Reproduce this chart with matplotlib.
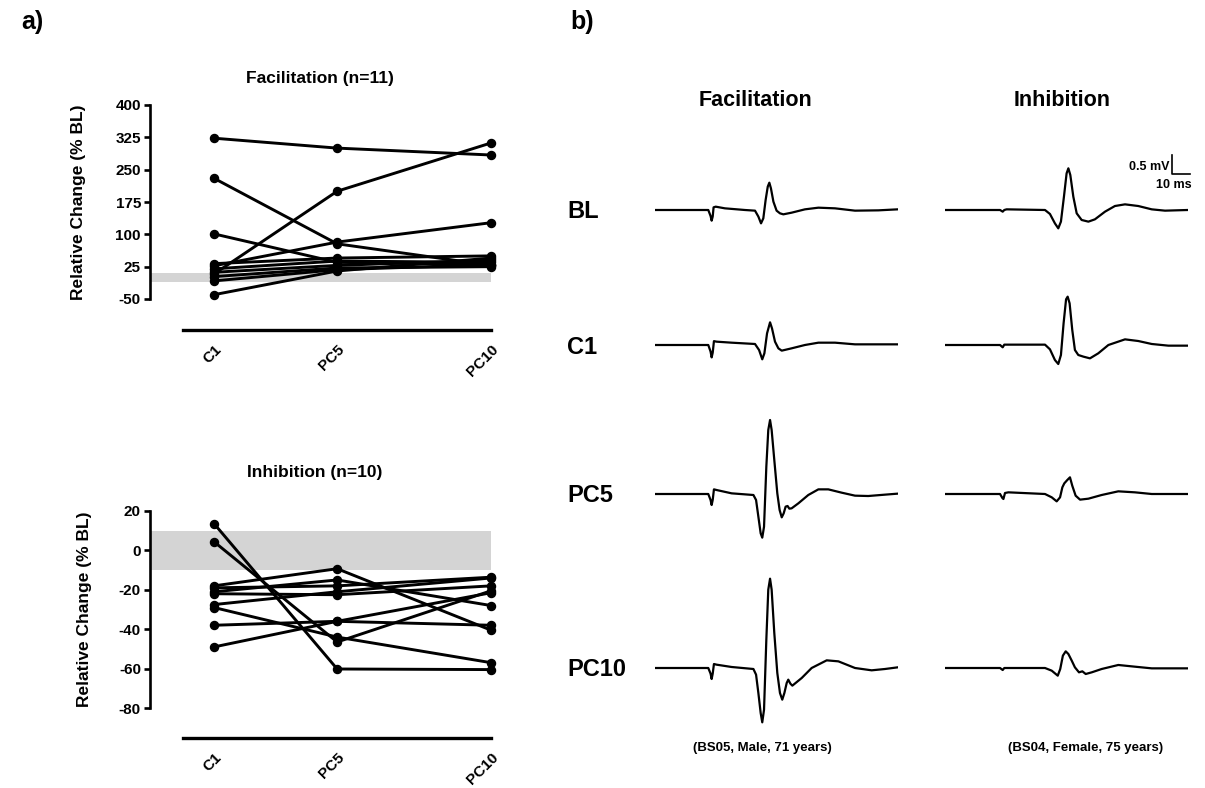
import matplotlib
matplotlib.use("Agg")
import matplotlib.pyplot as plt
import numpy as np

plt.rcParams['font.family'] = ['Liberation Sans', 'DejaVu Sans']
plt.rcParams['font.weight'] = 'bold'
plt.rcParams['axes.unicode_minus'] = False

# ---------------- data: panel a ----------------
time_points = [1, 5, 10]
time_labels = ['C1', 'PC5', 'PC10']

fac_s1 = [323, 300, 284]
fac_s2 = [8, 200, 312]
fac_s3 = [230, 78, 28]
fac_s4 = [101, 35, 30]
fac_s5 = [27, 82, 127]
fac_s6 = [-40, 15, 45]
fac_s7 = [32, 45, 50]
fac_s8 = [20, 38, 35]
fac_s9 = [12, 28, 40]
fac_s10 = [2, 22, 25]
fac_s11 = [-8, 18, 30]
facilitation = [fac_s1, fac_s2, fac_s3, fac_s4, fac_s5, fac_s6,
                fac_s7, fac_s8, fac_s9, fac_s10, fac_s11]

inh_s1 = [13.6, -60.2, -60.5]
inh_s2 = [4.4, -46.5, -20.5]
inh_s3 = [-18, -9.3, -40.5]
inh_s4 = [-29, -44, -57]
inh_s5 = [-38, -36, -38]
inh_s6 = [-49, -36, -21.5]
inh_s7 = [-27.5, -21, -14]
inh_s8 = [-21, -15, -28]
inh_s9 = [-22, -22.5, -18]
inh_s10 = [-19, -18, -13.6]
inhibition = [inh_s1, inh_s2, inh_s3, inh_s4, inh_s5, inh_s6,
              inh_s7, inh_s8, inh_s9, inh_s10]

band = [-10, 10]

# ---------------- data: panel b (MEP traces, ms / mV) ----------------
fac_bl_t = [0, 30.1, 31.4, 32.0, 32.6, 33.1, 34.3, 39.5, 50.8, 56.5, 58.4, 59.9, 61.2, 62.5, 63.7,
            64.6, 65.5, 66.9, 68.7, 70.6, 72.5, 77.2, 84.7, 92.3, 101.7, 113.0, 126.2, 137.1]
fac_bl_v = [0, 0, -0.155, -0.276, -0.17, 0.069, 0.086, 0.043, 0, -0.017, -0.17, -0.345, -0.215, 0.258,
            0.603, 0.706, 0.56, 0.215, -0.017, -0.086, -0.112, -0.069, 0.017, 0.06, 0.043, -0.017,
            -0.009, 0.017]

fac_c1_t = [0, 30.1, 31.4, 32.0, 32.6, 33.3, 34.8, 43.3, 56.5, 58.8, 60.6, 61.8, 63.3, 65.0, 66.1,
            67.8, 69.7, 71.6, 77.2, 84.7, 92.3, 101.7, 113.0, 137.1]
fac_c1_v = [0, 0, -0.17, -0.32, -0.2, 0.10, 0.086, 0.06, 0.026, -0.13, -0.37, -0.215, 0.30, 0.586,
            0.43, 0.086, -0.086, -0.146, -0.086, 0, 0.06, 0.06, 0.017, 0.017]

fac_pc5_t = [0, 30.1, 31.4, 32.0, 32.6, 33.3, 34.8, 43.3, 55.6, 57.1, 58.4, 59.7, 60.6, 61.6, 62.9,
             64.0, 65.0, 65.9, 67.4, 69.1, 70.4, 71.6, 72.7, 73.8, 74.9, 75.9, 77.2, 81.0, 86.6,
             92.3, 97.9, 105.5, 113.0, 120.5, 129.9, 137.1]
fac_pc5_v = [0, 0, -0.155, -0.284, -0.155, 0.12, 0.103, 0.017, -0.026, -0.155, -0.586, -1.016,
             -1.128, -0.844, 0.706, 1.654, 1.912, 1.654, 0.878, 0.017, -0.413, -0.603, -0.50,
             -0.327, -0.31, -0.379, -0.37, -0.241, -0.026, 0.12, 0.12, 0.034, -0.043, -0.052,
             -0.017, 0.009]

fac_pc10_t = [0, 30.1, 31.4, 32.0, 32.6, 33.3, 34.8, 43.3, 55.6, 57.1, 58.4, 59.7, 60.6, 61.6,
              62.9, 64.0, 65.0, 65.9, 67.4, 69.1, 70.6, 71.9, 73.1, 74.4, 75.3, 76.5, 77.6, 82.9,
              88.5, 97.0, 103.6, 113.0, 122.4, 129.9, 137.1]
fac_pc10_v = [0, 0, -0.146, -0.284, -0.146, 0.103, 0.086, 0.026, -0.026, -0.172, -0.646, -1.163,
              -1.404, -1.077, 0.732, 2.024, 2.308, 2.024, 0.904, -0.129, -0.646, -0.818, -0.646,
              -0.388, -0.301, -0.405, -0.456, -0.258, 0, 0.198, 0.172, 0, -0.06, -0.026, 0.017]

inh_bl_t = [0, 31.1, 32.6, 33.5, 34.8, 56.5, 59.3, 62.1, 64.0, 65.5, 67.2, 68.7, 69.7, 70.8, 72.5,
            74.4, 77.2, 81.0, 84.7, 90.4, 96.0, 101.7, 109.2, 116.8, 124.3, 137.1]
inh_bl_v = [0, 0, -0.043, 0, 0.017, 0, -0.103, -0.345, -0.474, -0.30, 0.344, 0.947, 1.077, 0.904,
            0.344, -0.086, -0.258, -0.301, -0.241, -0.043, 0.103, 0.146, 0.103, 0.017, -0.017, 0]

inh_c1_t = [0, 31.1, 32.6, 33.5, 56.5, 59.3, 62.1, 64.0, 65.5, 67.0, 68.4, 69.3, 70.4, 71.9, 73.4,
            75.3, 78.2, 81.9, 86.6, 92.3, 101.7, 109.2, 116.8, 126.2, 137.1]
inh_c1_v = [0, 0, -0.06, 0.009, 0.009, -0.112, -0.388, -0.491, -0.258, 0.56, 1.18, 1.249, 1.077,
            0.388, -0.129, -0.258, -0.301, -0.345, -0.215, 0, 0.146, 0.103, 0.026, -0.017, -0.017]

inh_pc5_t = [0, 31.1, 32.4, 33.0, 33.9, 35.8, 56.5, 60.3, 63.1, 65.0, 66.3, 67.4, 69.1, 70.6, 71.9,
             73.8, 76.3, 81.0, 88.5, 97.9, 107.3, 116.8, 137.1]
inh_pc5_v = [0, 0, -0.103, -0.129, 0.026, 0.043, 0, -0.086, -0.19, -0.086, 0.172, 0.275, 0.362,
             0.431, 0.215, -0.043, -0.146, -0.121, -0.026, 0.069, 0.043, 0, 0]

inh_pc10_t = [0, 31.1, 32.6, 33.5, 56.5, 60.3, 63.7, 65.1, 66.6, 68.2, 69.7, 71.6, 73.4, 75.7, 77.6,
              79.5, 82.9, 88.5, 97.9, 107.3, 116.8, 137.1]
inh_pc10_v = [0, 0, -0.052, 0, 0, -0.069, -0.198, -0.026, 0.319, 0.431, 0.362, 0.19, 0.017, -0.112,
              -0.086, -0.155, -0.112, -0.026, 0.078, 0.034, -0.009, -0.009]

row_labels = ['BL', 'C1', 'PC5', 'PC10']
col_labels = ['Facilitation', 'Inhibition']
captions = ['(BS05, Male, 71 years)', '(BS04, Female, 75 years)']
scale_mv = 0.5
scale_ms = 10

fac_traces = [(fac_bl_t, fac_bl_v), (fac_c1_t, fac_c1_v), (fac_pc5_t, fac_pc5_v), (fac_pc10_t, fac_pc10_v)]
inh_traces = [(inh_bl_t, inh_bl_v), (inh_c1_t, inh_c1_v), (inh_pc5_t, inh_pc5_v), (inh_pc10_t, inh_pc10_v)]

# ---------------- figure ----------------
W, H = 1205, 788
fig = plt.figure(figsize=(W / 100, H / 100), dpi=100)


def fx(px):
    return px / W


def fy(py):
    return 1 - py / H


def add_ax(left, top, right, bottom):
    return fig.add_axes([fx(left), fy(bottom), fx(right - left), (bottom - top) / H])


def style_pair_axes(ax, ymin, ymax, yticks, xl, xr, offset_px):
    ax.set_xlim(xl, xr)
    ax.set_ylim(ymin, ymax)
    for s in ['top', 'right']:
        ax.spines[s].set_visible(False)
    ax.spines['left'].set_bounds(ymin, ymax)
    ax.spines['left'].set_linewidth(1.9)
    ax.spines['bottom'].set_position(('outward', offset_px * 0.72))
    ax.spines['bottom'].set_bounds(0, 10)
    ax.spines['bottom'].set_linewidth(2.4)
    ax.set_yticks(yticks)
    ax.tick_params(axis='y', direction='out', length=4.5, width=1.9, labelsize=11, pad=2)
    ax.tick_params(axis='x', length=0, labelsize=11, pad=9)
    ax.set_xticks(time_points)
    ax.set_xticklabels(time_labels, rotation=45, ha='right', rotation_mode='anchor',
                       fontweight='bold')
    for lab in ax.get_yticklabels():
        lab.set_fontweight('bold')
    ax.patch.set_alpha(0)


x_left = -1.08
x_right = 10.16

# Facilitation chart
ax1 = add_ax(150, 105, 496, 299)
style_pair_axes(ax1, -50, 400, [-50, 25, 100, 175, 250, 325, 400], x_left, x_right, 31)
ax1.fill_between([x_left, 10], band[0], band[1], color='#d4d4d4', lw=0, zorder=0)
for s in facilitation:
    ax1.plot(time_points, s, color='black', lw=2.1, marker='o', ms=5.8, clip_on=False, zorder=3)
ax1.set_ylabel('Relative Change (% BL)', fontsize=12.5, fontweight='bold')
ax1.yaxis.set_label_coords((86 - 150) / 346, 0.5)

# Inhibition chart
ax2 = add_ax(150, 511, 496, 708)
style_pair_axes(ax2, -80, 20, [-80, -60, -40, -20, 0, 20], x_left, x_right, 30)
ax2.fill_between([x_left, 10], band[0], band[1], color='#d4d4d4', lw=0, zorder=0)
for s in inhibition:
    ax2.plot(time_points, s, color='black', lw=2.1, marker='o', ms=5.8, clip_on=False, zorder=3)
ax2.set_ylabel('Relative Change (% BL)', fontsize=12.5, fontweight='bold')
ax2.yaxis.set_label_coords((92 - 150) / 346, 0.5)

fig.text(fx(320), fy(78), 'Facilitation (n=11)', ha='center', va='center', fontsize=12.5, fontweight='bold')
fig.text(fx(315), fy(472), 'Inhibition (n=10)', ha='center', va='center', fontsize=12.5, fontweight='bold')
fig.text(fx(21), fy(22), 'a)', ha='left', va='center', fontsize=18, fontweight='bold')
fig.text(fx(570), fy(22), 'b)', ha='left', va='center', fontsize=18, fontweight='bold')

# ---------------- panel b ----------------
px_per_ms = 1.77
px_per_mv = 38.7
t_max = 137.1
v_lo, v_hi = -1.8, 2.6
baselines = [210, 345, 494, 668]
col_left = [655, 945]

for ci, traces in enumerate([fac_traces, inh_traces]):
    for ri, (t, v) in enumerate(traces):
        b = baselines[ri]
        left = col_left[ci]
        ax = add_ax(left, b - v_hi * px_per_mv, left + t_max * px_per_ms, b - v_lo * px_per_mv)
        ax.set_xlim(0, t_max)
        ax.set_ylim(v_lo, v_hi)
        ax.axis('off')
        ax.plot(t, v, color='black', lw=1.6, solid_joinstyle='round')
        if ci == 1 and ri == 0:
            # scale bar
            t0 = 128.2
            v0 = 0.92
            ax.plot([t0, t0, t0 + scale_ms], [v0 + scale_mv, v0, v0], color='black', lw=1.2,
                    clip_on=False)
            ax.text(t0 - 1.2, v0 + 0.2, '%.1f mV' % scale_mv, ha='right', va='center',
                    fontsize=9, fontweight='bold')
            ax.text(t0 - 9.0, v0 - 0.27, '%d ms' % scale_ms, ha='left', va='center',
                    fontsize=9, fontweight='bold')

col_centers = [755, 1062]
for ci, name in enumerate(col_labels):
    fig.text(fx(col_centers[ci]), fy(100), name, ha='center', va='center', fontsize=15.5, fontweight='bold')

for ri, name in enumerate(row_labels):
    fig.text(fx(567), fy(baselines[ri] + 2), name, ha='left', va='center', fontsize=17, fontweight='bold')

cap_centers = [762, 1086]
for ci, name in enumerate(captions):
    fig.text(fx(cap_centers[ci]), fy(748), name, ha='center', va='center', fontsize=9.5, fontweight='bold')

fig.savefig('out.png', dpi=100)
